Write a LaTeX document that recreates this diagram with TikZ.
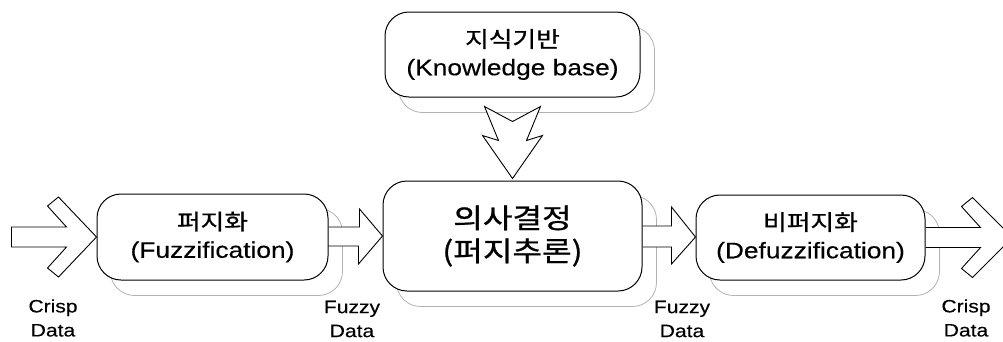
\documentclass[tikz,border=0pt]{standalone}
\usepackage{fontspec}
\setmainfont{Liberation Sans}[FakeBold=0.3]
\newfontfamily\krfont{Noto Sans CJK KR}[FakeBold=0.8]
\usetikzlibrary{calc}

% horizontally widened text
\newcommand\wtext[1]{\scalebox{1.17}[1]{#1}}
% Korean line of a small stage
\newcommand\krline[1]{\wtext{\krfont\fontsize{22}{27}\selectfont #1}}

\pgfdeclarelayer{shadowlayer}
\pgfdeclarelayer{arrowlayer}
\pgfsetlayers{shadowlayer,arrowlayer,main}

\tikzset{
  stage/.style={draw=black, line width=1pt, fill=white, rounded corners=24pt,
    align=center, inner sep=0pt, font=\fontsize{22.5}{28}\selectfont},
  bigstage/.style={stage, font=\fontsize{27.5}{33}\selectfont},
  shade/.style={draw=black!30, line width=0.8pt, rounded corners=24pt},
  blockarrow/.style={draw=black, line width=0.9pt, fill=white, line join=miter},
  flowlabel/.style={align=center, inner sep=0pt, font=\fontsize{18}{24}\selectfont},
}

\begin{document}
\begin{tikzpicture}[x=1pt, y=-1pt]
  \useasboundingbox (0,0) rectangle (1003,341);
  \clip (0,0) rectangle (1003,341);

  % stages
  \node[stage, minimum width=255pt, minimum height=85pt] (kb) at (512.5,54.5)
    {\krline{지식기반}\\\wtext{(Knowledge base)}};
  \node[stage, minimum width=231pt, minimum height=86pt] (fuzz) at (212.5,237)
    {\krline{퍼지화}\\\wtext{(Fuzzification)}};
  \node[bigstage, minimum width=259pt, minimum height=110pt] (dec) at (512.5,236)
    {\wtext{\krfont 의사결정}\\\wtext{\krfont (퍼지추론)}};
  \node[stage, minimum width=229pt, minimum height=85pt] (defuzz) at (810.5,237.5)
    {\krline{비퍼지화}\\\wtext{(Defuzzification)}};

  % soft offset outlines behind the stages
  \begin{pgfonlayer}{shadowlayer}
    \foreach \n in {kb,fuzz,dec,defuzz}
      \draw[shade] ([shift={(14,15)}]\n.north west) rectangle ([shift={(14,15)}]\n.south east);
  \end{pgfonlayer}

  % block arrows
  \begin{pgfonlayer}{arrowlayer}
    % crisp input
    \draw[blockarrow] (fuzz.west) -- ++(-38,-40) -- ++(-11,9) -- ++(19,21)
      -- ++(-55,0) -- ++(0,20) -- ++(55,0) -- ++(-19,21) -- ++(11,9) -- cycle;
    % fuzzification -> decision
    \draw[blockarrow] ([shift={(0,-10)}]fuzz.east) -- ++(31,0) -- ++(0,-18)
      -- ($(dec.west |- fuzz.east)+(0,-1)$) -- ++(-24,28) -- ++(0,-18) -- ++(-31,0);
    % decision -> defuzzification
    \draw[blockarrow] ([shift={(0,-10)}]dec.east) -- ++(29,0) -- ++(0,-19)
      -- ($(defuzz.west |- dec.east)+(0,1)$) -- ++(-24,27) -- ++(0,-17) -- ++(-29,0);
    % crisp output
    \draw[blockarrow] ([shift={(0,-10)}]defuzz.east) -- ++(55,0) -- ++(-19,-21)
      -- ++(11,-9) -- ++(40,40) -- ++(-40,40) -- ++(-11,-9) -- ++(19,-21) -- ++(-55,0);
    % knowledge base -> decision
    \draw[blockarrow] ([shift={(0,-2)}]dec.north) -- ++(-30,-43) -- ++(16,5)
      -- ++(-14,-34) -- ++(28,15) -- ++(28,-15) -- ++(-14,34) -- ++(16,-5) -- cycle;
  \end{pgfonlayer}

  % data labels
  \node[flowlabel] (crispin)  at (53,318)  {\wtext{Crisp}\\\wtext{Data}};
  \node[flowlabel] (fuzzyone) at (352,319) {\wtext{Fuzzy}\\\wtext{Data}};
  \node[flowlabel] (fuzzytwo) at (682,319) {\wtext{Fuzzy}\\\wtext{Data}};
  \node[flowlabel] (crispout) at (966,318) {\wtext{Crisp}\\\wtext{Data}};
\end{tikzpicture}
\end{document}
